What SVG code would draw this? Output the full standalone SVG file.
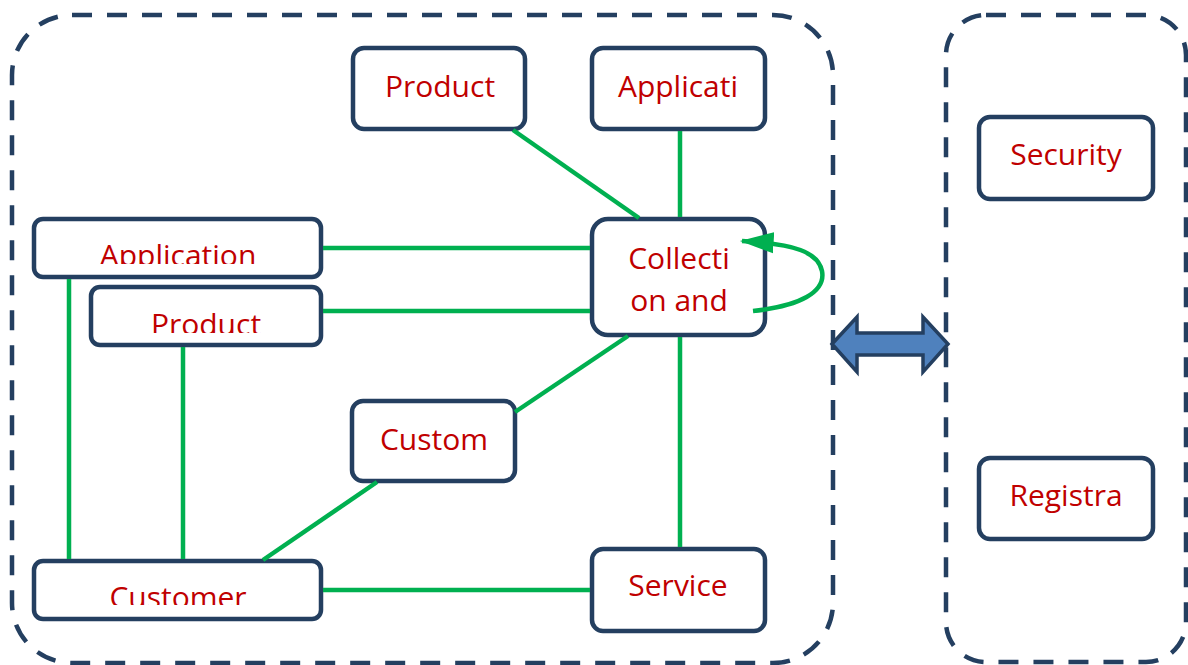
<svg xmlns="http://www.w3.org/2000/svg" width="1188" height="665" viewBox="0 0 1188 665">
  <style>
    .frame { fill: none; stroke: #243F60; stroke-width: 4.5; stroke-dasharray: 20 15; }
    .box { fill: #FFFFFF; stroke: #243F60; stroke-width: 4.5; }
    .lbl { font-family: "Open Sans", "Liberation Sans", sans-serif; font-size: 30px; fill: #C00000; text-anchor: middle; }
    .link { fill: none; stroke: #00B050; stroke-width: 4.5; }
  </style>
  <defs>
    <marker id="greenHead" viewBox="0 0 16 10" refX="15" refY="5" markerWidth="7.5" markerHeight="5" orient="auto" markerUnits="strokeWidth">
      <path d="M0,0 L16,5 L0,10 z" fill="#00B050"/>
    </marker>
    <clipPath id="clipApp"><rect x="34" y="219" width="288" height="45"/></clipPath>
    <clipPath id="clipProd"><rect x="91" y="287" width="231" height="46"/></clipPath>
    <clipPath id="clipCust"><rect x="34" y="561" width="288" height="44"/></clipPath>
  </defs>

  <!-- dashed containers -->
  <rect class="frame" x="12" y="15" width="821" height="648" rx="60"/>
  <rect class="frame" x="946" y="15" width="240" height="647" rx="40"/>

  <g id="node-product-top">
    <rect class="box" x="353" y="48" width="172" height="81" rx="11"/>
    <text class="lbl" x="440" y="97">Product</text>
  </g>
  <g id="node-applicati">
    <rect class="box" x="592" y="48" width="173" height="81" rx="11"/>
    <text class="lbl" x="678" y="97">Applicati</text>
  </g>
  <g id="node-application">
    <rect class="box" x="34" y="219" width="287" height="58" rx="9"/>
    <text class="lbl" x="178" y="266" clip-path="url(#clipApp)">Application</text>
  </g>
  <g id="node-product-left">
    <rect class="box" x="91" y="287" width="230" height="58" rx="9"/>
    <text class="lbl" x="206" y="335" clip-path="url(#clipProd)">Product</text>
  </g>
  <g id="node-collection">
    <rect class="box" x="592" y="219" width="173" height="116" rx="16"/>
    <text class="lbl" x="679" y="269">Collecti</text>
    <text class="lbl" x="679" y="311">on and</text>
  </g>
  <g id="node-custom">
    <rect class="box" x="352" y="401" width="163" height="80" rx="11"/>
    <text class="lbl" x="434" y="450">Custom</text>
  </g>
  <g id="node-customer">
    <rect class="box" x="34" y="561" width="287" height="58" rx="9"/>
    <text class="lbl" x="178" y="608" clip-path="url(#clipCust)">Customer</text>
  </g>
  <g id="node-service">
    <rect class="box" x="592" y="549" width="173" height="82" rx="11"/>
    <text class="lbl" x="678" y="596">Service</text>
  </g>
  <g id="node-security">
    <rect class="box" x="979" y="117" width="174" height="82" rx="11"/>
    <text class="lbl" x="1066" y="165">Security</text>
  </g>
  <g id="node-registra">
    <rect class="box" x="979" y="458" width="174" height="81" rx="11"/>
    <text class="lbl" x="1066" y="506">Registra</text>
  </g>

  <!-- connectors -->
  <g id="connectors">
    <line class="link" x1="513" y1="130" x2="639" y2="218"/>
    <line class="link" x1="680" y1="131" x2="680" y2="217"/>
    <line class="link" x1="323" y1="248" x2="590" y2="248"/>
    <line class="link" x1="323" y1="311" x2="590" y2="311"/>
    <line class="link" x1="628" y1="336" x2="515" y2="412"/>
    <line class="link" x1="680" y1="337" x2="680" y2="547"/>
    <line class="link" x1="377" y1="482" x2="263" y2="560"/>
    <line class="link" x1="323" y1="590" x2="590" y2="590"/>
    <line class="link" x1="69" y1="279" x2="69" y2="559"/>
    <line class="link" x1="183" y1="347" x2="183" y2="559"/>
    <path class="link" d="M753,311 C800,306 826,292 822,271 C818,252 795,244 742,241" marker-end="url(#greenHead)"/>
    <polygon points="832,344 857,317 857,333 923,333 923,317 948,344 923,372 923,355 857,355 857,372" fill="#4F81BD" stroke="#243F60" stroke-width="3.5" stroke-linejoin="miter"/>
  </g>
</svg>
